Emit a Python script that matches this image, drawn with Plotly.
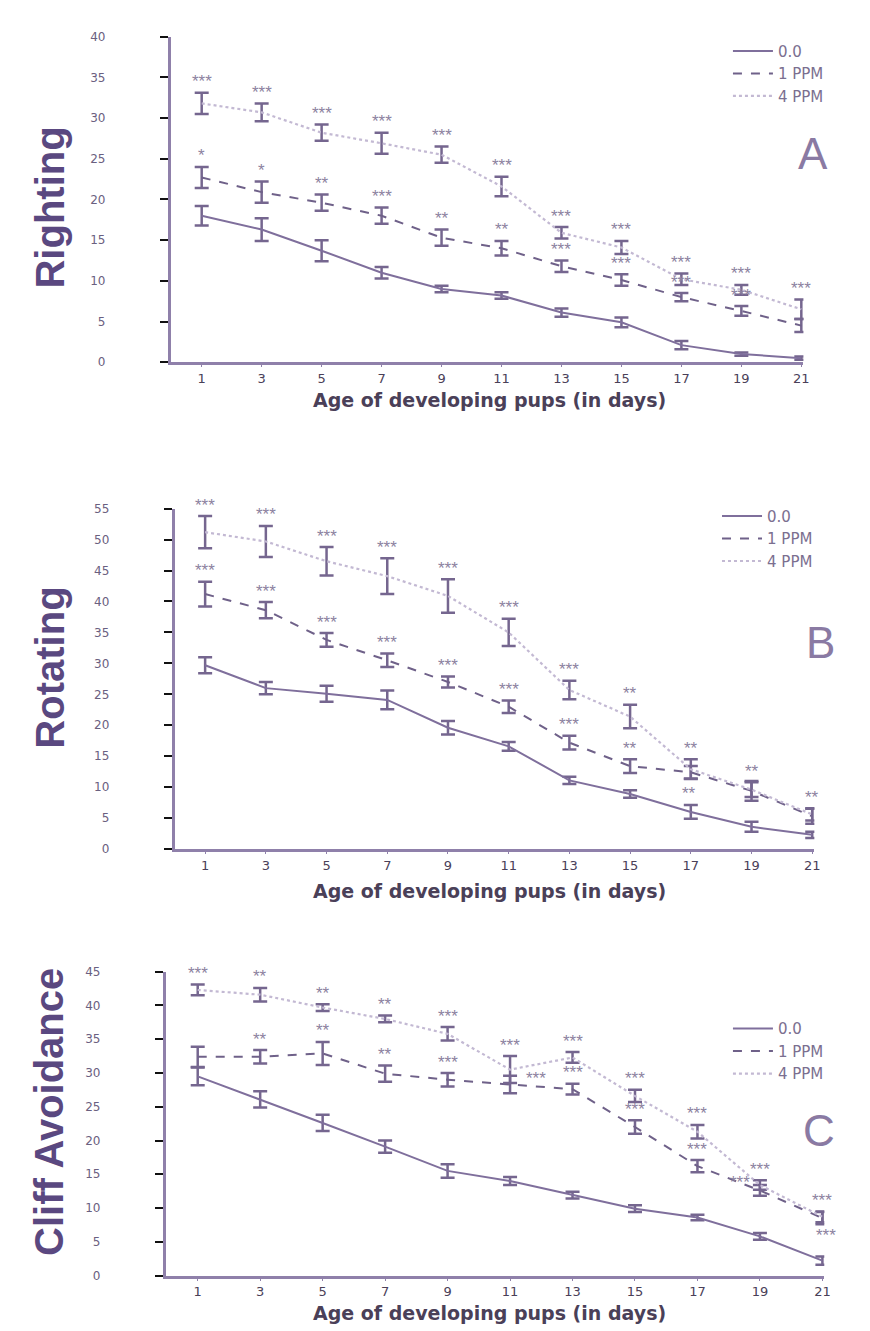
import plotly.graph_objects as go

W, H = 870, 1331

days = [1, 3, 5, 7, 9, 11, 13, 15, 17, 19, 21]
tick_labels = ["1", "3", "5", "7", "9", "11", "13", "15", "17", "19", "21"]
series_names = ["0.0", "1 PPM", "4 PPM"]

# Panel A: Righting
righting_00 = [18.0, 16.3, 13.7, 11.0, 9.0, 8.2, 6.1, 4.9, 2.1, 1.0, 0.5]
righting_00_err = [1.2, 1.4, 1.3, 0.7, 0.4, 0.4, 0.5, 0.6, 0.5, 0.2, 0.2]
righting_1 = [22.7, 20.9, 19.6, 18.0, 15.3, 14.0, 11.8, 10.1, 8.0, 6.3, 4.5]
righting_1_err = [1.3, 1.3, 1.0, 1.0, 1.0, 0.9, 0.7, 0.7, 0.5, 0.6, 0.8]
righting_4 = [31.8, 30.7, 28.2, 26.9, 25.5, 21.6, 15.9, 14.1, 10.2, 8.9, 6.5]
righting_4_err = [1.3, 1.1, 1.0, 1.3, 1.0, 1.2, 0.7, 0.8, 0.7, 0.6, 1.2]
righting_1_stars = ["*", "*", "**", "***", "**", "**", "***", "***", "***", "***", ""]
righting_4_stars = ["***"] * 11

# Panel B: Rotating
rotating_00 = [29.7, 26.0, 25.1, 24.1, 19.6, 16.6, 11.1, 8.9, 6.0, 3.6, 2.3]
rotating_00_err = [1.3, 1.0, 1.3, 1.5, 1.1, 0.7, 0.6, 0.6, 1.1, 0.8, 0.5]
rotating_1 = [41.2, 38.6, 33.8, 30.5, 27.0, 23.0, 17.2, 13.4, 12.4, 9.4, 5.3]
rotating_1_err = [2.0, 1.3, 1.1, 1.1, 0.9, 1.0, 1.1, 1.1, 1.0, 1.6, 1.2]
rotating_4 = [51.2, 49.7, 46.5, 44.1, 40.9, 35.0, 25.7, 21.4, 12.9, 9.6, 5.6]
rotating_4_err = [2.6, 2.5, 2.3, 2.9, 2.7, 2.2, 1.5, 1.9, 1.6, 1.2, 1.0]
rotating_1_stars = ["***", "***", "***", "***", "***", "***", "***", "**", "**", "", ""]
rotating_4_stars = ["***", "***", "***", "***", "***", "***", "***", "**", "**", "**", "**"]

# Panel C: Cliff Avoidance
cliff_00 = [29.5, 26.1, 22.6, 19.1, 15.5, 14.0, 11.9, 9.9, 8.6, 5.8, 2.2]
cliff_00_err = [1.3, 1.2, 1.2, 0.9, 1.0, 0.6, 0.5, 0.5, 0.4, 0.5, 0.6]
cliff_1 = [32.4, 32.4, 32.9, 29.9, 29.0, 28.3, 27.6, 22.0, 16.2, 12.6, 8.5]
cliff_1_err = [1.5, 1.0, 1.7, 1.2, 1.0, 1.3, 0.8, 1.0, 0.9, 0.8, 0.9]
cliff_4 = [42.3, 41.6, 39.7, 38.0, 35.8, 30.5, 32.3, 26.6, 21.3, 13.4, 8.7]
cliff_4_err = [0.8, 1.0, 0.5, 0.5, 1.0, 2.0, 0.8, 0.9, 1.0, 0.7, 0.8]
cliff_1_stars = ["", "**", "**", "**", "***", "***", "***", "***", "***", "***", "***"]
cliff_4_stars = ["***", "**", "**", "**", "***", "***", "***", "***", "***", "***", "***"]

# label placement tweaks (panel, series index, day) -> (xshift, yshift) in px
STAR_SHIFT = {
    ("B", 1, 17): (-2, -38),
    ("C", 1, 11): (26, -14),
    ("C", 1, 19): (-20, -8),
    ("C", 1, 21): (4, -34),
}

AXIS_COL = "#8f80aa"
SOLID_COL = "#7f6f9c"
DASH_COL = "#6f6189"
DOT_COL = "#c3b9d3"
ERR_COL = "#75668f"
STAR_COL = "#8c82a0"
TITLE_COL = "#5a4880"
TEXT_COL = "#6a6080"


def px_x(p):
    return p / W


def px_y(p):
    return 1 - p / H


panels = [
    dict(key="", name="A", vals=[righting_00, righting_1, righting_4],
         errs=[righting_00_err, righting_1_err, righting_4_err],
         stars=[None, righting_1_stars, righting_4_stars],
         xdom=(172, 809), ydom=(30, 359), xr=(-0.03, 21.07), yr=(0, 40), dt=5,
         title="Righting", title_y=203, letter_pos=(819, 148),
         xtitle_y=397, legend_pos=(733, 28)),
    dict(key="2", name="B", vals=[rotating_00, rotating_1, rotating_4],
         errs=[rotating_00_err, rotating_1_err, rotating_4_err],
         stars=[None, rotating_1_stars, rotating_4_stars],
         xdom=(176, 820), ydom=(507, 851), xr=(0, 21.07), yr=(0, 55), dt=5,
         title="Rotating", title_y=668, letter_pos=(826, 642),
         xtitle_y=893, legend_pos=(722, 498)),
    dict(key="3", name="C", vals=[cliff_00, cliff_1, cliff_4],
         errs=[cliff_00_err, cliff_1_err, cliff_4_err],
         stars=[None, cliff_1_stars, cliff_4_stars],
         xdom=(167, 830), ydom=(975, 1282), xr=(-0.02, 21.06), yr=(0, 45), dt=5,
         title="Cliff Avoidance", title_y=1117, letter_pos=(825, 1135),
         xtitle_y=1320, legend_pos=(733, 1016)),
]

line_styles = [
    dict(color=SOLID_COL, width=2, dash="solid"),
    dict(color=DASH_COL, width=2, dash="dash"),
    dict(color=DOT_COL, width=2.2, dash="dot"),
]

fig = go.Figure()
annotations = []
layout_upd = {}

for p in panels:
    k = p["key"]
    xa, ya = "x" + k, "y" + k
    legend_name = "legend" + k
    for si in range(3):
        fig.add_trace(go.Scatter(
            x=days, y=p["vals"][si], mode="lines", name=series_names[si],
            line=line_styles[si],
            error_y=dict(type="data", array=p["errs"][si], visible=True,
                         color=ERR_COL, thickness=2.5, width=7),
            xaxis=xa, yaxis=ya, legend=legend_name,
        ))
        if p["stars"][si] is not None:
            for d, v, e, s in zip(days, p["vals"][si], p["errs"][si], p["stars"][si]):
                if s:
                    xs, ys = STAR_SHIFT.get((p["name"], si, d), (0, 0))
                    annotations.append(dict(
                        x=d, y=v + e, xref=xa, yref=ya, text=s, showarrow=False,
                        xshift=xs, yshift=11 + ys,
                        font=dict(size=17, color=STAR_COL, family="Liberation Sans")))
    ytick_vals = list(range(p["yr"][0], p["yr"][1] + 1, p["dt"]))
    layout_upd["xaxis" + k] = dict(
        domain=[px_x(p["xdom"][0]), px_x(p["xdom"][1])],
        range=list(p["xr"]), anchor=ya,
        tickvals=days, ticktext=tick_labels,
        showline=True, linecolor=AXIS_COL, linewidth=3,
        ticks="outside", ticklen=2, tickcolor=AXIS_COL,
        showgrid=False, zeroline=False,
        tickfont=dict(size=13, color="#4a4058", family="DejaVu Sans"),
    )
    layout_upd["yaxis" + k] = dict(
        domain=[px_y(p["ydom"][1]), px_y(p["ydom"][0])],
        range=list(p["yr"]), anchor=xa,
        tickvals=ytick_vals, ticktext=[str(v) for v in ytick_vals],
        showline=True, linecolor=AXIS_COL, linewidth=3,
        ticks="outside", ticklen=8, tickcolor="#111111", tickwidth=2,
        ticklabelstandoff=52,
        showgrid=False, zeroline=False,
        tickfont=dict(size=12, color=TEXT_COL, family="DejaVu Sans"),
    )
    layout_upd[legend_name] = dict(
        x=px_x(p["legend_pos"][0]), y=px_y(p["legend_pos"][1]),
        xanchor="left", yanchor="top", bgcolor="rgba(0,0,0,0)",
        font=dict(size=15, color="#7b6f90", family="DejaVu Sans"),
        itemwidth=40, tracegroupgap=0,
    )
    annotations.append(dict(
        x=px_x(50), y=px_y(p["title_y"]), xref="paper", yref="paper",
        text="<b>" + p["title"] + "</b>", textangle=-90, showarrow=False,
        font=dict(size=40, color=TITLE_COL, family="Liberation Sans"),
        xanchor="center", yanchor="middle"))
    annotations.append(dict(
        x=px_x(493), y=px_y(p["xtitle_y"]), xref="paper", yref="paper",
        text="<b>Age of developing pups (in days)</b>", showarrow=False,
        font=dict(size=19, color="#4a4058", family="DejaVu Sans"),
        xanchor="center", yanchor="middle"))
    annotations.append(dict(
        x=px_x(p["letter_pos"][0]), y=px_y(p["letter_pos"][1]),
        xref="paper", yref="paper", text=p["name"], showarrow=False,
        font=dict(size=44, color="#8a7aa3", family="Liberation Sans"),
        xanchor="center", yanchor="middle"))

fig.update_layout(
    width=W, height=H, margin=dict(l=0, r=0, t=0, b=0),
    paper_bgcolor="white", plot_bgcolor="white",
    annotations=annotations, **layout_upd,
)

fig.write_html("out.html", config={"displayModeBar": False},
               post_script="document.body.style.margin='0px';")
